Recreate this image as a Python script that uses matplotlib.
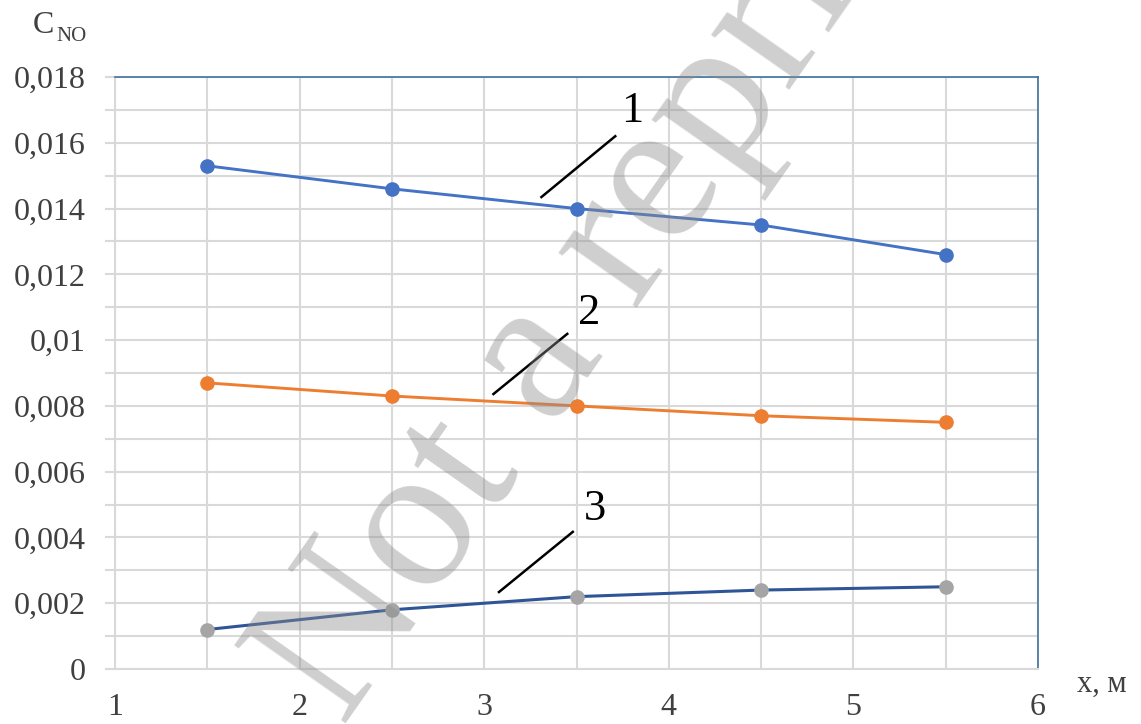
import numpy as np
import matplotlib
matplotlib.use('Agg')
import matplotlib.pyplot as plt
from matplotlib.ticker import MultipleLocator, FuncFormatter

# data
x = [1.5, 2.5, 3.5, 4.5, 5.5]
c_no_1 = [0.0153, 0.0146, 0.0140, 0.0135, 0.0126]
c_no_2 = [0.0087, 0.0083, 0.0080, 0.0077, 0.0075]
c_no_3 = [0.0012, 0.0018, 0.0022, 0.0024, 0.0025]
curve_labels = ['1', '2', '3']

# leader lines (start, end) and label spots, in data units
leaders = [((3.31, 0.01435), (3.71, 0.01620)),
           ((3.05, 0.00836), (3.45, 0.01019)),
           ((3.08, 0.00234), (3.48, 0.00417))]
label_spots = [(3.80, 0.01697), (3.57, 0.01082), (3.60, 0.00487)]

plt.rcParams['font.family'] = ['Liberation Serif', 'DejaVu Serif']

W, H = 1141, 724
fig = plt.figure(figsize=(W / 100, H / 100), dpi=100)
ax = fig.add_axes([115 / W, 1 - 669 / H, (1038 - 115) / W, (669 - 77) / H])

grid_c = '#d9d9d9'
ax.set_xlim(1, 6)
ax.set_ylim(0, 0.018)
ax.xaxis.set_major_locator(MultipleLocator(1))
ax.xaxis.set_minor_locator(MultipleLocator(0.5))
ax.yaxis.set_major_locator(MultipleLocator(0.002))
ax.yaxis.set_minor_locator(MultipleLocator(0.001))
ax.grid(True, which='both', color=grid_c, linewidth=1.5, zorder=0)
ax.set_axisbelow(True)

fmt = FuncFormatter(lambda v, p: '{:g}'.format(round(v, 4)).replace('.', ','))
ax.yaxis.set_major_formatter(fmt)
ax.tick_params(axis='y', which='major', direction='out', length=7, width=1.5,
               color=grid_c, labelsize=23, labelcolor='#404040', pad=14)
ax.tick_params(axis='y', which='minor', direction='out', length=7, width=1.5,
               color=grid_c)
ax.tick_params(axis='x', which='both', length=0, labelsize=23,
               labelcolor='#404040', pad=17)

for side in ['left', 'bottom']:
    ax.spines[side].set_color(grid_c)
    ax.spines[side].set_linewidth(1.5)
for side in ['top', 'right']:
    ax.spines[side].set_color('#41719c')
    ax.spines[side].set_linewidth(1.2)

ax.plot(x, c_no_1, color='#4472c4', linewidth=2.1, marker='o', markersize=9.5, zorder=3)
ax.plot(x, c_no_2, color='#ed7d31', linewidth=2.1, marker='o', markersize=9.5, zorder=3)
ax.plot(x, c_no_3, color='#2f5597', linewidth=2.2, zorder=3)
ax.plot(x, c_no_3, linestyle='none', marker='o', markersize=9.5,
        color='#a5a5a5', zorder=4)

for (p0, p1), (lx, ly), lab in zip(leaders, label_spots, curve_labels):
    ax.plot([p0[0], p1[0]], [p0[1], p1[1]], color='black', linewidth=1.8, zorder=5)
    ax.text(lx, ly, lab, fontsize=32, ha='center', va='center', zorder=5)

# axis captions
fig.text(33 / W, 1 - 33 / H, 'C', fontsize=23, color='#404040', ha='left', va='baseline')
fig.text(56 / W, 1 - 41 / H, 'NO', fontsize=15, color='#404040', ha='left', va='baseline')
fig.text(1077 / W, 1 - 692 / H, 'x, м', fontsize=22, color='#404040', ha='left', va='baseline')

# watermark
fig.text(343 / W, 1 - 728 / H, 'Not a reprint', fontsize=150, rotation=55,
         rotation_mode='anchor', ha='left', va='baseline', color='#8c8c8c',
         alpha=0.42, zorder=10)

fig.savefig('out.png', dpi=100)
